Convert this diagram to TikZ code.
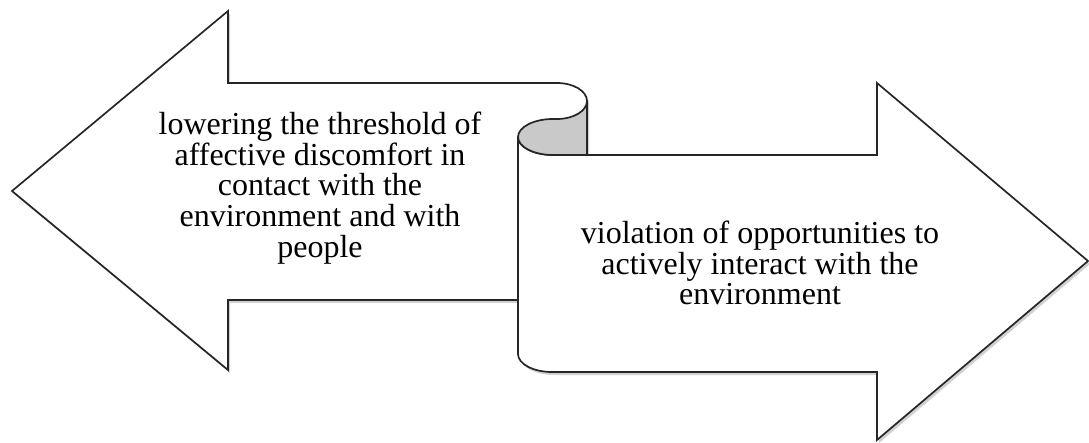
\documentclass[tikz,border=0pt]{standalone}
\usepackage{fontspec}
\setmainfont{Liberation Serif}
\usetikzlibrary{shadows}
\begin{document}
\begin{tikzpicture}[x=1pt,y=-1pt,
  arrowbody/.style={draw=black!85,line width=1.7pt,fill=white,line join=miter,
    drop shadow={shadow xshift=2pt,shadow yshift=-3pt,opacity=0.18,fill=black}},
  curl/.style={draw=black!85,line width=1.7pt,fill=black!21},
  lbl/.style={align=center,font=\fontsize{32}{30.8}\selectfont,inner sep=0pt}]
\useasboundingbox (0,0) rectangle (1089,443);
% left arrow
\path[arrowbody] (12,191) coordinate (ltip) -- (228,11) -- (228,83) -- (557,83)
  .. controls (573.6,83) and (587,91.1) .. (587,101) -- (587,300) -- (228,300) -- (228,370) -- cycle;
% right arrow
\path[arrowbody] (553,155) -- (877,155) -- (877,83) -- (1088,261) coordinate (rtip) -- (877,440) -- (877,372) -- (552,372)
  .. controls (533.2,372) and (518,363.9) .. (518,354) -- (518,137)
  .. controls (518,146.9) and (533.7,155) .. (553,155) -- cycle;
% curl
\path[curl] (587,101) .. controls (587,110.9) and (573.6,119) .. (557,119) -- (553,119)
  .. controls (533.7,119) and (518,127.1) .. (518,137)
  .. controls (518,146.9) and (533.7,155) .. (553,155) -- (587,155) -- cycle;
% texts
\node[lbl] (ltext) at (320,188) {lowering the threshold of\\affective discomfort in\\contact with the\\environment and with\\people};
\node[lbl] (rtext) at (760,263) {violation of opportunities to\\actively interact with the\\environment};
\end{tikzpicture}
\end{document}
